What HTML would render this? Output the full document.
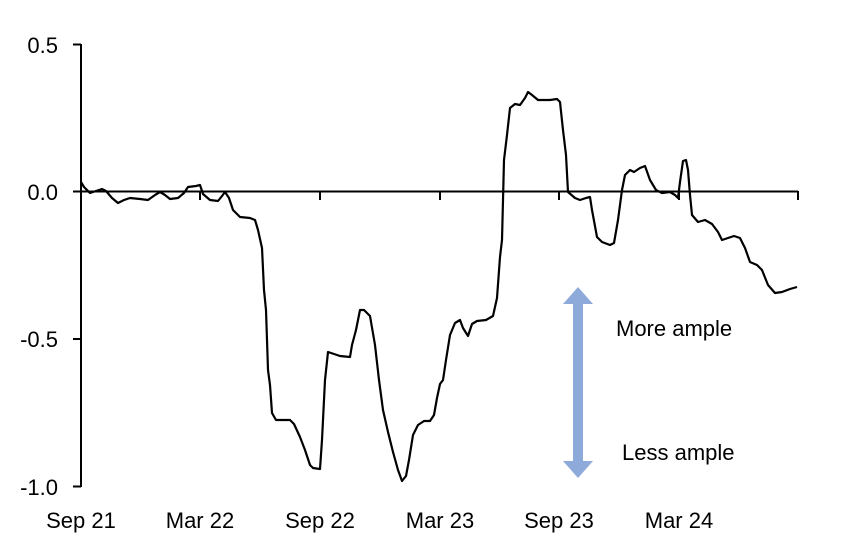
<!DOCTYPE html><html><head><style>body{margin:0;background:#fff}svg{display:block}text{font-family:"Liberation Sans",Arial,sans-serif;font-size:22px;fill:#000}</style></head><body>
<svg width="852" height="539" viewBox="0 0 852 539">
<g stroke="#000" stroke-width="2" fill="none">
<line x1="81" y1="44" x2="81" y2="487"/>
<line x1="73" y1="44.5" x2="81" y2="44.5"/><line x1="73" y1="191.5" x2="81" y2="191.5"/><line x1="73" y1="339" x2="81" y2="339"/><line x1="73" y1="486.5" x2="81" y2="486.5"/>
<line x1="81" y1="191.5" x2="798" y2="191.5"/>
<line x1="200" y1="191" x2="200" y2="200"/><line x1="320" y1="191" x2="320" y2="200"/><line x1="440" y1="191" x2="440" y2="200"/><line x1="559" y1="191" x2="559" y2="200"/><line x1="679" y1="191" x2="679" y2="200"/><line x1="798" y1="191" x2="798" y2="200"/>
<polyline stroke-width="2.2" stroke-linejoin="round" points="81,182 84,187 90,193 96,191 102,189 106,191 112,198 118,203 124,200 130,198 140,199 148,200 155,195 160,192 165,195 170,199 178,198 184,193 188,187 196,186 200,185 203,194 210,200 218,201 222,196 225,192 229,198 233,210 240,217 250,218 255,220 258,230 262,248 264,290 266,310 268,370 270,385 272,413 276,420 284,420 290,420 294,424 300,437 305,450 310,465 313,468 320,469 322,440 325,380 328,352 334,354 340,356 350,357 352,345 356,330 360,310 364,310 370,316 375,345 379,380 383,410 388,432 393,452 398,470 402,481 406,476 409,460 413,435 418,425 424,421 430,421 434,415 437,398 440,384 443,380 446,360 450,335 455,323 460,320 463,328 468,336 472,324 477,321 486,320 493,316 497,298 500,257 502,240 504,160 507,135 510,108 515,104 520,105 525,98 528,92 532,95 538,100 550,100 557,99 560,102 563,130 566,155 568,192 575,198 580,200 586,198 590,197 592,210 597,237 602,242 610,245 614,243 618,220 622,190 625,175 630,170 634,172 640,168 645,166 650,180 656,190 662,193 670,192 675,195 678,198 680,182 683,161 686,160 688,170 690,195 692,215 698,222 705,220 712,224 718,232 722,240 728,238 734,236 740,238 745,248 750,262 757,265 762,270 768,285 775,293 782,292 790,289 797,287"/>
</g>
<g fill="#8eaadb"><rect x="573" y="302" width="10" height="160"/><polygon points="578,287 563,304 593,304"/><polygon points="578,478 563,461 593,461"/></g>
<g text-anchor="end"><text x="58" y="53">0.5</text><text x="58" y="200">0.0</text><text x="58" y="347">-0.5</text><text x="58" y="495">-1.0</text></g>
<g text-anchor="middle"><text x="81" y="528">Sep 21</text><text x="200" y="528">Mar 22</text><text x="320" y="528">Sep 22</text><text x="440" y="528">Mar 23</text><text x="559" y="528">Sep 23</text><text x="679" y="528">Mar 24</text></g>
<text x="616" y="336">More ample</text><text x="622" y="460">Less ample</text>
</svg></body></html>
